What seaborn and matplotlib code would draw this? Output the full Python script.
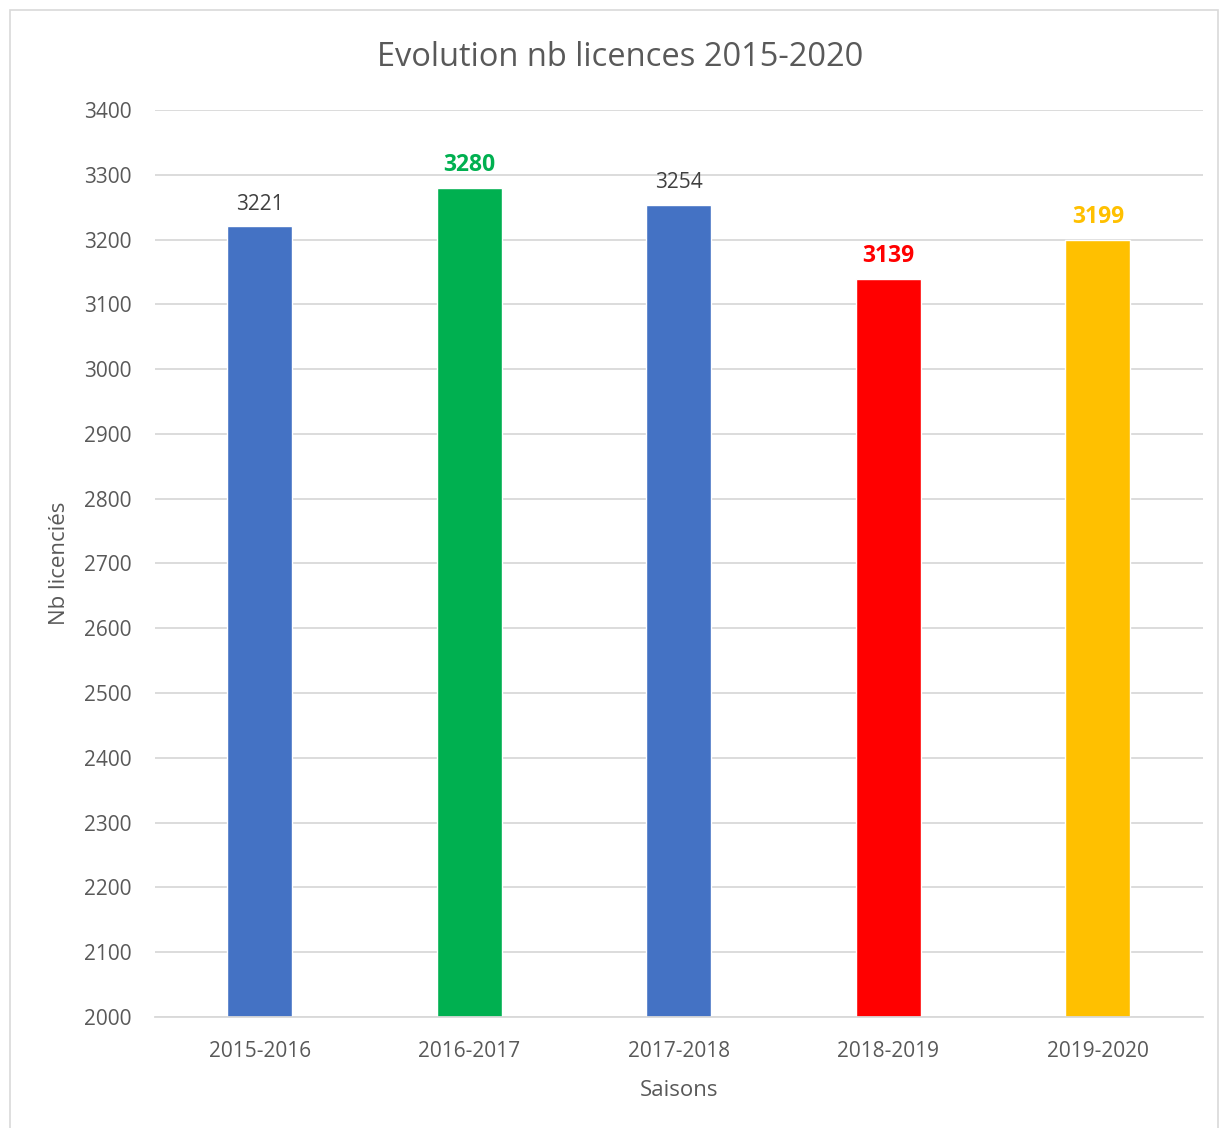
import matplotlib
matplotlib.use("Agg")
import matplotlib.pyplot as plt
import pandas as pd
import seaborn as sns

seasons = ["2015-2016", "2016-2017", "2017-2018", "2018-2019", "2019-2020"]
licences = [3221, 3280, 3254, 3139, 3199]
bar_colors = ["#4472C4", "#00B050", "#4472C4", "#FF0000", "#FFC000"]
label_colors = ["#404040", "#00B050", "#404040", "#FF0000", "#FFC000"]
label_bold = [False, True, False, True, True]

sns.set_theme(style="white")
plt.rcParams["font.family"] = ["Open Sans", "DejaVu Sans"]

df = pd.DataFrame({"Saisons": seasons, "Nb": licences})

fig = plt.figure(figsize=(12.21, 11.28), dpi=100)
ax = fig.add_axes([0.127, 0.0984, 0.858, 0.8041])

sns.barplot(data=df, x="Saisons", y="Nb", hue="Saisons", palette=bar_colors,
            legend=False, width=0.31, ax=ax, saturation=1)

ax.set_ylim(2000, 3400)
ax.set_yticks(range(2000, 3401, 100))
ax.yaxis.grid(True, color="#D9D9D9", linewidth=1.3)
ax.set_axisbelow(True)
for s in ["top", "right", "left"]:
    ax.spines[s].set_visible(False)
ax.spines["bottom"].set_color("#D9D9D9")
ax.spines["bottom"].set_linewidth(1.3)
ax.tick_params(axis="both", length=0, labelsize=15, labelcolor="#595959")
ax.tick_params(axis="x", pad=17)
ax.tick_params(axis="y", pad=17)

for i, v in enumerate(licences):
    ax.annotate(str(v), (i, v), xytext=(0, 8), textcoords="offset points",
                ha="center", va="bottom", fontsize=16.5 if label_bold[i] else 15,
                color=label_colors[i],
                fontweight="bold" if label_bold[i] else "normal")

ax.set_xlabel("Saisons", fontsize=16, color="#595959", labelpad=13)
ax.set_ylabel("Nb licenciés", fontsize=16, color="#595959", labelpad=10)
fig.text(0.508, 0.949, "Evolution nb licences 2015-2020", ha="center",
         va="center", fontsize=23.5, color="#595959")

# outer chart border
fig.patches.append(plt.Rectangle((10 / 1221, -0.01), 1208 / 1221, 1 - 10 / 1128 + 0.01,
                                 transform=fig.transFigure, fill=False,
                                 edgecolor="#D9D9D9", linewidth=1.2))

fig.savefig("out.png", dpi=100)
